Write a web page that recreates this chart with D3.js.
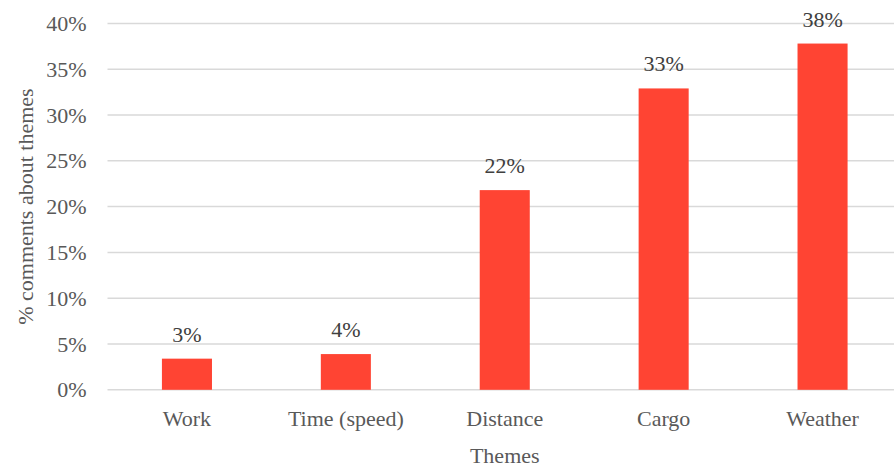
<!DOCTYPE html>
<html>
<head>
<meta charset="utf-8">
<script src="https://cdn.jsdelivr.net/npm/d3@7"></script>
</head>
<body style="margin:0;background:#fff">
<svg id="chart" width="894" height="468"></svg>
<script>
// Share of comments mentioning each theme
const themes = ["Work", "Time (speed)", "Distance", "Cargo", "Weather"];
const shares = [0.034, 0.039, 0.218, 0.329, 0.378];
const yTicks = [0, 0.05, 0.10, 0.15, 0.20, 0.25, 0.30, 0.35, 0.40];

const FONT = "Liberation Serif";
const svg = d3.select("#chart");
const W = 894;
const plot = { left: 107.5, right: 902, top: 23.4, bottom: 389.8 };

const x = d3.scaleBand()
  .domain(themes)
  .range([plot.left, plot.right])
  .paddingInner(0.685)
  .paddingOuter(0.3425);

const y = d3.scaleLinear()
  .domain([0, 0.40])
  .range([plot.bottom, plot.top]);

const pct = d3.format(".0%");

function serif(sel, colour) {
  sel.attr("font-family", FONT)
    .attr("font-size", 22)
    .style("font-family", "'Liberation Serif'")
    .style("font-size", "22px")
    .attr("fill", colour);
}

// Horizontal gridlines
svg.append("g")
  .selectAll("line")
  .data(yTicks)
  .join("line")
  .attr("x1", plot.left)
  .attr("x2", W)
  .attr("y1", d => y(d))
  .attr("y2", d => y(d))
  .attr("stroke", "#d9d9d9")
  .attr("stroke-width", 1.5);

// Y axis tick labels
const yAxis = svg.append("g")
  .attr("transform", `translate(${plot.left - 21},0)`)
  .call(d3.axisLeft(y).tickValues(yTicks).tickFormat(pct).tickSize(0).tickPadding(0));
yAxis.attr("font-family", FONT).attr("font-size", 22);
yAxis.select(".domain").remove();
yAxis.selectAll("text").call(serif, "#595959");

// Bars
svg.append("g")
  .selectAll("rect")
  .data(themes)
  .join("rect")
  .attr("x", d => x(d))
  .attr("width", x.bandwidth())
  .attr("y", (d, i) => y(shares[i]))
  .attr("height", (d, i) => y(0) - y(shares[i]))
  .attr("fill", "#ff4433");

// Value labels above bars
svg.append("g")
  .selectAll("text")
  .data(themes)
  .join("text")
  .attr("x", d => x(d) + x.bandwidth() / 2)
  .attr("y", (d, i) => y(shares[i]) - 17)
  .attr("text-anchor", "middle")
  .text((d, i) => pct(shares[i]))
  .call(serif, "#404040");

// X axis category labels
const xAxis = svg.append("g")
  .attr("transform", `translate(0,${plot.bottom})`)
  .call(d3.axisBottom(x).tickSize(0).tickPadding(0));
xAxis.attr("font-family", FONT).attr("font-size", 22);
xAxis.select(".domain").remove();
xAxis.selectAll("text")
  .attr("dy", null)
  .attr("y", 36)
  .call(serif, "#595959");

// Axis titles
svg.append("text")
  .attr("x", x("Distance") + x.bandwidth() / 2)
  .attr("y", 463)
  .attr("text-anchor", "middle")
  .text("Themes")
  .call(serif, "#595959");

svg.append("text")
  .attr("transform", `translate(33,${(plot.top + plot.bottom) / 2}) rotate(-90)`)
  .attr("text-anchor", "middle")
  .text("% comments about themes")
  .call(serif, "#595959");
</script>
</body>
</html>
